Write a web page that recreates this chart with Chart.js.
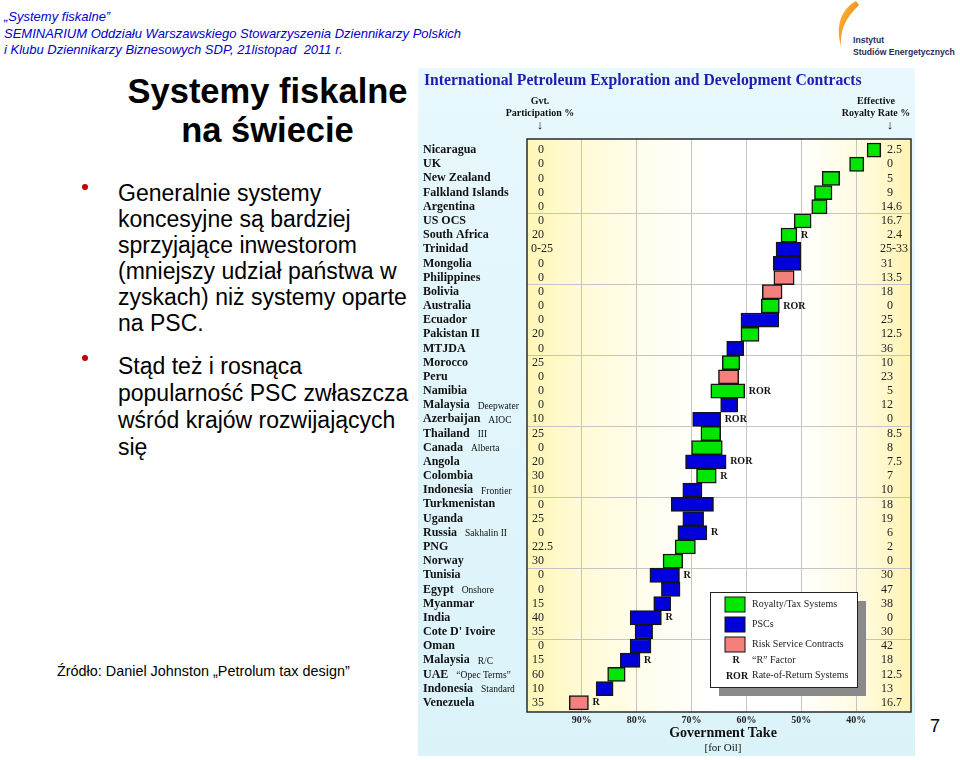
<!DOCTYPE html>
<html>
<head>
<meta charset="utf-8">
<script src="https://cdn.jsdelivr.net/npm/chart.js@4.4.1/dist/chart.umd.min.js"></script>
<style>
  body { margin: 0; width: 960px; height: 760px; position: relative; background: #fff; overflow: hidden;
         font-family: Arial, "Liberation Sans", sans-serif; color: #000; }
  .abs { position: absolute; white-space: nowrap; }
  #hdr { left: 4px; top: 9px; font: italic 13px Arial, "Liberation Sans", sans-serif; color: #0000cc; line-height: 16.5px; }
  #title { left: 100px; width: 335px; top: 72px; text-align: center; font-weight: bold; font-size: 34.5px; line-height: 39px; }
  .bul { left: 118px; font-size: 23px; line-height: 26px; }
  .dot { position: absolute; width: 6px; height: 6px; border-radius: 50%; background: #c00000; }
  #src { left: 57px; top: 663px; font-size: 14.4px; }
  #page { left: 930px; top: 716px; font-size: 18px; }
  #panel { position: absolute; left: 418px; top: 68px; width: 497px; height: 688px;
           background: linear-gradient(#e8f8fd, #daf3f9); }
  #panel canvas { position: absolute; left: 0; top: 0; }
  .serif { font-family: "Liberation Serif", "Times New Roman", serif; color: #111; }
  #ctitle { left: 6px; top: 3px; font-weight: bold; font-size: 15.7px; color: #1c1cb0; line-height: 18px; }
  .hd { font-weight: bold; font-size: 10px; line-height: 12px; text-align: center; }
  #logo-t { left: 853px; top: 34px; font: bold 8.6px Arial, "Liberation Sans", sans-serif; color: #1f2d5c; line-height: 12px; }
</style>
</head>
<body>
<div id="hdr" class="abs">„Systemy fiskalne”<br>SEMINARIUM Oddziału Warszawskiego Stowarzyszenia Dziennikarzy Polskich<br>i Klubu Dziennikarzy Biznesowych SDP, 21listopad&nbsp; 2011 r.</div>

<svg class="abs" style="left:832px;top:0px" width="30" height="48" viewBox="0 0 30 48">
  <defs><linearGradient id="fl" x1="0" y1="0" x2="1" y2="1">
    <stop offset="0" stop-color="#ffc23a"/><stop offset="1" stop-color="#e86a0a"/></linearGradient></defs>
  <path d="M24 1 C10 9 3 24 9 46 C8 31 13 18 27 5 Z" fill="url(#fl)"/>
</svg>
<div id="logo-t" class="abs">Instytut<br>Studiów Energetycznych</div>

<div id="title" class="abs">Systemy fiskalne<br>na świecie</div>

<div class="dot" style="left:82px;top:184px"></div>
<div class="abs bul" style="top:180px">Generalnie systemy<br>koncesyjne są bardziej<br>sprzyjające inwestorom<br>(mniejszy udział państwa w<br>zyskach) niż systemy oparte<br>na PSC.</div>
<div class="dot" style="left:82px;top:355px"></div>
<div class="abs bul" style="top:353px;line-height:27px">Stąd też i rosnąca<br>popularność PSC zwłaszcza<br>wśród krajów rozwijających<br>się</div>

<div id="src" class="abs">Źródło: Daniel Johnston „Petrolum tax design”</div>
<div id="page" class="abs">7</div>

<div id="panel">
  <canvas id="chart" width="497" height="688"></canvas>
  <div id="ctitle" class="abs serif">International Petroleum Exploration and Development Contracts</div>
  <div class="abs serif hd" style="left:82px;top:27px;width:80px">Gvt.<br>Participation %</div>
  <div class="abs serif hd" style="left:117px;top:51px;width:10px;font-size:13px">↓</div>
  <div class="abs serif hd" style="left:418px;top:27px;width:80px">Effective<br>Royalty Rate %</div>
  <div class="abs serif hd" style="left:467px;top:51px;width:10px;font-size:13px">↓</div>
  <div class="abs serif" style="left:205px;top:657px;width:200px;text-align:center;font-weight:bold;font-size:14px;line-height:16px">Government Take</div>
  <div class="abs serif" style="left:205px;top:673px;width:200px;text-align:center;font-size:11px;line-height:13px">[for Oil]</div>
</div>

<script>
// rows, top to bottom
const countries = ["Nicaragua", "UK", "New Zealand", "Falkland Islands", "Argentina",
  "US OCS", "South Africa", "Trinidad", "Mongolia", "Philippines",
  "Bolivia", "Australia", "Ecuador", "Pakistan II", "MTJDA",
  "Morocco", "Peru", "Namibia", "Malaysia", "Azerbaijan",
  "Thailand", "Canada", "Angola", "Colombia", "Indonesia",
  "Turkmenistan", "Uganda", "Russia", "PNG", "Norway",
  "Tunisia", "Egypt", "Myanmar", "India", "Cote D' Ivoire",
  "Oman", "Malaysia", "UAE", "Indonesia", "Venezuela"];
const countryNotes = ["", "", "", "", "", "", "", "", "", "",
  "", "", "", "", "", "", "", "", "Deepwater", "AIOC",
  "III", "Alberta", "", "", "Frontier", "", "", "Sakhalin II", "", "",
  "", "Onshore", "", "", "", "", "R/C", "\u201cOpec Terms\u201d", "Standard", ""];

// government take range, %
const takeLow = [35.5, 38.6, 43.0, 44.4, 45.3, 48.2, 50.8, 50.1, 50.1, 51.3,
  53.5, 54.0, 54.1, 57.7, 60.5, 61.2, 61.4, 60.3, 61.6, 64.7,
  64.7, 64.4, 63.7, 65.5, 68.1, 66.0, 67.8, 67.2, 69.3, 71.6,
  72.2, 72.1, 73.8, 75.5, 77.1, 77.4, 79.4, 82.1, 84.3, 88.8];
const takeHigh = [38.0, 41.2, 46.2, 47.6, 48.1, 51.3, 53.7, 54.6, 55.1, 55.0,
  57.1, 57.3, 61.0, 61.0, 63.6, 64.4, 65.1, 66.5, 64.7, 69.8,
  68.3, 70.0, 71.1, 69.1, 71.6, 73.7, 71.6, 72.5, 73.0, 75.2,
  77.6, 75.5, 76.9, 81.2, 80.3, 81.2, 83.0, 85.3, 87.4, 92.3];

const systemType = ["RT", "RT", "RT", "RT", "RT", "RT", "RT", "PSC", "PSC", "RSC",
  "RSC", "RT", "PSC", "RT", "PSC", "RT", "RSC", "RT", "PSC", "PSC",
  "RT", "RT", "PSC", "RT", "PSC", "PSC", "PSC", "PSC", "RT", "RT",
  "PSC", "PSC", "PSC", "PSC", "PSC", "PSC", "PSC", "RT", "PSC", "RSC"];
const flags = ["", "", "", "", "", "", "R", "", "", "",
  "", "ROR", "", "", "", "", "", "ROR", "", "ROR",
  "", "", "ROR", "R", "", "", "", "R", "", "",
  "R", "", "", "R", "", "", "R", "", "", "R"];

const govtParticipation = ["0", "0", "0", "0", "0", "0", "20", "0-25", "0", "0",
  "0", "0", "0", "20", "0", "25", "0", "0", "0", "10",
  "25", "0", "20", "30", "10", "0", "25", "0", "22.5", "30",
  "0", "0", "15", "40", "35", "0", "15", "60", "10", "35"];
const royaltyRate = ["2.5", "0", "5", "9", "14.6", "16.7", "2.4", "25-33", "31", "13.5",
  "18", "0", "25", "12.5", "36", "10", "23", "5", "12", "0",
  "8.5", "8", "7.5", "7", "10", "18", "19", "6", "2", "0",
  "30", "47", "38", "0", "30", "42", "18", "12.5", "13", "16.7"];

const seriesKeys = ["RT", "PSC", "RSC"];
const seriesLabels = ["Royalty/Tax Systems", "PSCs", "Risk Service Contracts"];
const seriesColors = ["#00e600", "#0000dc", "#f4807c"];

const xTicksBottom = [90, 80, 70, 60, 50, 40];
const xTicksTop = [80, 70, 60, 50, 40];
const rowGroupLines = [4.5, 9.5, 14.5, 19.5, 24.5, 29.5, 34.5];

const SERIF = '"Liberation Serif", "Times New Roman", serif';

function drawAligned(ctx, str, anchor, y) {
  if (str.includes("-")) {
    ctx.textAlign = "left";
    ctx.fillText(str, anchor - 13, y);
    return;
  }
  const m = str.match(/^(\d+)(.*)$/);
  ctx.textAlign = "right";
  ctx.fillText(m[1], anchor, y);
  ctx.textAlign = "left";
  ctx.fillText(m[2], anchor, y);
}

const panelPlugin = {
  id: "panel",
  beforeDraw(chart) {
    const { ctx, chartArea: a } = chart;
    const g = ctx.createLinearGradient(a.left, 0, a.right, 0);
    g.addColorStop(0, "#fff6b6");
    g.addColorStop(0.14, "#fffad6");
    g.addColorStop(0.32, "#fffdee");
    g.addColorStop(0.48, "#ffffff");
    g.addColorStop(0.7, "#ffffff");
    g.addColorStop(0.86, "#fffbe2");
    g.addColorStop(1, "#fff4b4");
    ctx.save();
    ctx.fillStyle = g;
    ctx.fillRect(a.left, a.top, a.right - a.left, a.bottom - a.top);
    ctx.restore();
  },
  afterDatasetsDraw(chart) {
    const { ctx, chartArea: a, scales } = chart;
    const ys = scales.y, xs = scales.x;
    ctx.save();

    // frame
    ctx.strokeStyle = "#2a2a2a";
    ctx.lineWidth = 1.5;
    ctx.strokeRect(a.left, a.top, a.right - a.left, a.bottom - a.top);

    ctx.textBaseline = "middle";
    countries.forEach((name, i) => {
      const y = ys.getPixelForValue(i);
      // row label
      ctx.fillStyle = "#111";
      ctx.textAlign = "left";
      ctx.font = "bold 12px " + SERIF;
      const lx = a.left - 104;
      ctx.fillText(name, lx, y);
      if (countryNotes[i]) {
        const w = ctx.measureText(name).width;
        ctx.font = "9.5px " + SERIF;
        ctx.fillText(countryNotes[i], lx + w + 8, y + 1);
      }
      // columns
      ctx.font = "12px " + SERIF;
      ctx.fillStyle = "#222";
      drawAligned(ctx, govtParticipation[i], a.left + 17, y);
      drawAligned(ctx, royaltyRate[i], a.right - 18, y);
      // R / ROR marks
      if (flags[i]) {
        ctx.font = "bold 10px " + SERIF;
        ctx.fillStyle = "#111";
        ctx.textAlign = "left";
        ctx.fillText(flags[i], xs.getPixelForValue(takeLow[i]) + 4, y);
      }
    });

    // legend
    const bx = a.right - 201, by = a.bottom - 120, bw = 147, bh = 95;
    ctx.fillStyle = "#8a8a8a";
    ctx.fillRect(bx + 9, by + 9, bw, bh);
    ctx.fillStyle = "#fff";
    ctx.fillRect(bx, by, bw, bh);
    ctx.strokeStyle = "#222";
    ctx.lineWidth = 1;
    ctx.strokeRect(bx + 0.5, by + 0.5, bw, bh);
    ctx.font = "10px " + SERIF;
    chart.data.datasets.forEach((ds, k) => {
      const sy = by + 5 + k * 20;
      ctx.fillStyle = ds.backgroundColor;
      ctx.fillRect(bx + 15, sy, 20, 15);
      ctx.strokeStyle = "#111";
      ctx.strokeRect(bx + 15, sy, 20, 15);
      ctx.fillStyle = "#222";
      ctx.textAlign = "left";
      ctx.fillText(ds.label, bx + 42, sy + 7);
    });
    ctx.fillText("\u201cR\u201d Factor", bx + 42, by + 68);
    ctx.fillText("Rate-of-Return Systems", bx + 42, by + 83);
    ctx.font = "bold 10px " + SERIF;
    ctx.textAlign = "center";
    ctx.fillStyle = "#111";
    ctx.fillText("R", bx + 26, by + 68);
    ctx.fillText("ROR", bx + 27, by + 84);
    ctx.restore();
  }
};

const datasets = seriesKeys.map((key, s) => ({
  label: seriesLabels[s],
  data: countries
    .map((c, i) => (systemType[i] === key ? { y: i, x: [takeLow[i], takeHigh[i]] } : null))
    .filter(Boolean),
  backgroundColor: seriesColors[s],
  borderColor: "#151515",
  borderWidth: 1.5,
  borderSkipped: false,
  barPercentage: 1,
  categoryPercentage: 1,
  grouped: false,
  xAxisID: "x",
  yAxisID: "y",
}));

const tickFont = { family: SERIF, weight: "bold", size: 10 };

new Chart(document.getElementById("chart"), {
  type: "bar",
  data: { datasets },
  options: {
    indexAxis: "y",
    responsive: false,
    animation: false,
    layout: { padding: { left: 109, right: 4, top: 57, bottom: 30 } },
    plugins: { legend: { display: false }, tooltip: { enabled: false } },
    scales: {
      x: {
        type: "linear", position: "bottom", min: 30, max: 100, reverse: true,
        afterBuildTicks: (s) => { s.ticks = xTicksBottom.map((v) => ({ value: v })); },
        afterFit: (s) => { s.height = 14; },
        ticks: { callback: (v) => v + "%", font: tickFont, color: "#222", padding: 2, maxRotation: 0, autoSkip: false },
        grid: { color: "#c4c4c4", lineWidth: 1, drawTicks: false },
        border: { display: false },
      },
      x2: {
        type: "linear", position: "top", min: 30, max: 100, reverse: true,
        afterBuildTicks: (s) => { s.ticks = xTicksTop.map((v) => ({ value: v })); },
        afterFit: (s) => { s.height = 14; },
        ticks: { callback: (v) => v + "%", font: tickFont, color: "#222", padding: 3, maxRotation: 0, autoSkip: false },
        grid: { display: false },
        border: { display: false },
      },
      y: {
        type: "linear", min: -0.78, max: 39.65, reverse: true,
        offset: false,
        bounds: "data",
        afterBuildTicks: (s) => { s.ticks = rowGroupLines.map((v) => ({ value: v })); },
        afterFit: (s) => { s.width = 0; },
        ticks: { display: false },
        grid: { color: "#c4c4c4", lineWidth: 1, drawTicks: false, offset: false },
        border: { display: false },
      },
    },
  },
  plugins: [panelPlugin],
});
</script>
</body>
</html>
